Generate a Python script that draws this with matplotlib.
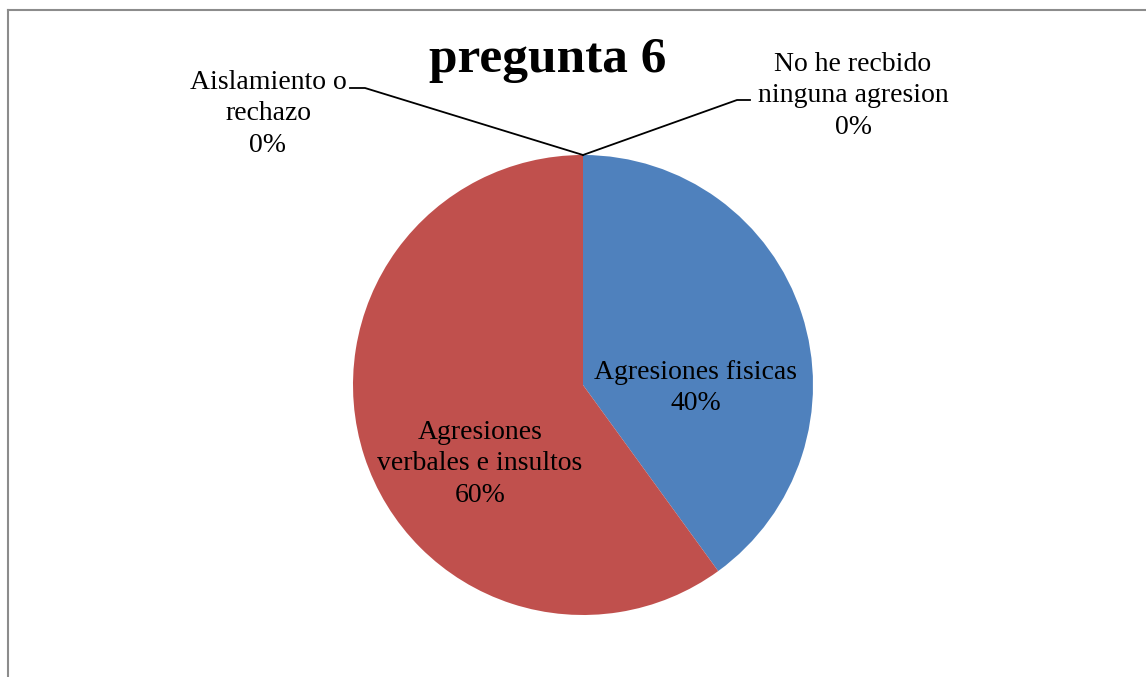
import numpy as np
import matplotlib.pyplot as plt
from matplotlib.lines import Line2D

plt.rcParams['font.family'] = ['Liberation Serif', 'DejaVu Serif']

W, H = 1146, 677

# ---------- datos ----------
categorias = ['Agresiones fisicas', 'Agresiones\nverbales e insultos',
              'Aislamiento o\nrechazo', 'No he recbido\nninguna agresion']
valores = [40, 60, 0, 0]
colores = ['#4F81BD', '#C0504D', '#9BBB59', '#8064A2']
titulo = 'pregunta 6'

fig = plt.figure(figsize=(W / 100, H / 100), dpi=100)

# marco gris (solo se ven el borde izquierdo y superior)
fig.add_artist(Line2D([7.5 / W, 7.5 / W], [0, 1 - 9.5 / H], color='#8c8c8c', lw=1.5))
fig.add_artist(Line2D([7.5 / W, 1], [1 - 9.5 / H, 1 - 9.5 / H], color='#8c8c8c', lw=1.5))

# ejes del pastel: centro (583, 385), radio 230 px
cx, cy, r = 583, 385, 230
ax = fig.add_axes([(cx - r) / W, (H - cy - r) / H, 2 * r / W, 2 * r / H])
wedges, _ = ax.pie(valores, colors=colores, startangle=90, counterclock=False,
                   radius=1, wedgeprops=dict(linewidth=0))
ax.set_xlim(-1, 1)
ax.set_ylim(-1, 1)
ax.set_aspect('equal')
ax.axis('off')

fig.text(548 / W, 1 - 60 / H, titulo, ha='center', va='center',
         fontsize=37, fontweight='bold')

fs = 20
ls = 1.36
total = sum(valores)


def etiqueta(i):
    return f'{categorias[i]}\n{valores[i] / total:.0%}'


# etiquetas internas
fig.text(696 / W, 1 - 388 / H, etiqueta(0), ha='center', va='center',
         fontsize=fs, linespacing=ls)
fig.text(480 / W, 1 - 464 / H, etiqueta(1), ha='center', va='center',
         fontsize=fs, linespacing=ls)

# etiquetas externas con lineas guia, desde el punto superior del pastel
fig.canvas.draw()
ang = wedges[2].theta1
px, py = ax.transData.transform((np.cos(np.radians(ang)), np.sin(np.radians(ang))))
ax_pt = (px / W, py / H)

# Aislamiento o rechazo
fig.add_artist(Line2D([ax_pt[0], 365 / W, 350 / W],
                      [ax_pt[1], 1 - 88 / H, 1 - 88 / H], color='black', lw=1.3))
fig.text(268 / W, 1 - 114 / H, etiqueta(2), ha='center', va='center',
         fontsize=fs, linespacing=ls)

# No he recbido ninguna agresion
fig.add_artist(Line2D([ax_pt[0], 737 / W, 750 / W],
                      [ax_pt[1], 1 - 100 / H, 1 - 100 / H], color='black', lw=1.3))
fig.text(853 / W, 1 - 96 / H, etiqueta(3), ha='center', va='center',
         fontsize=fs, linespacing=ls)

fig.savefig('out.png', dpi=100)
